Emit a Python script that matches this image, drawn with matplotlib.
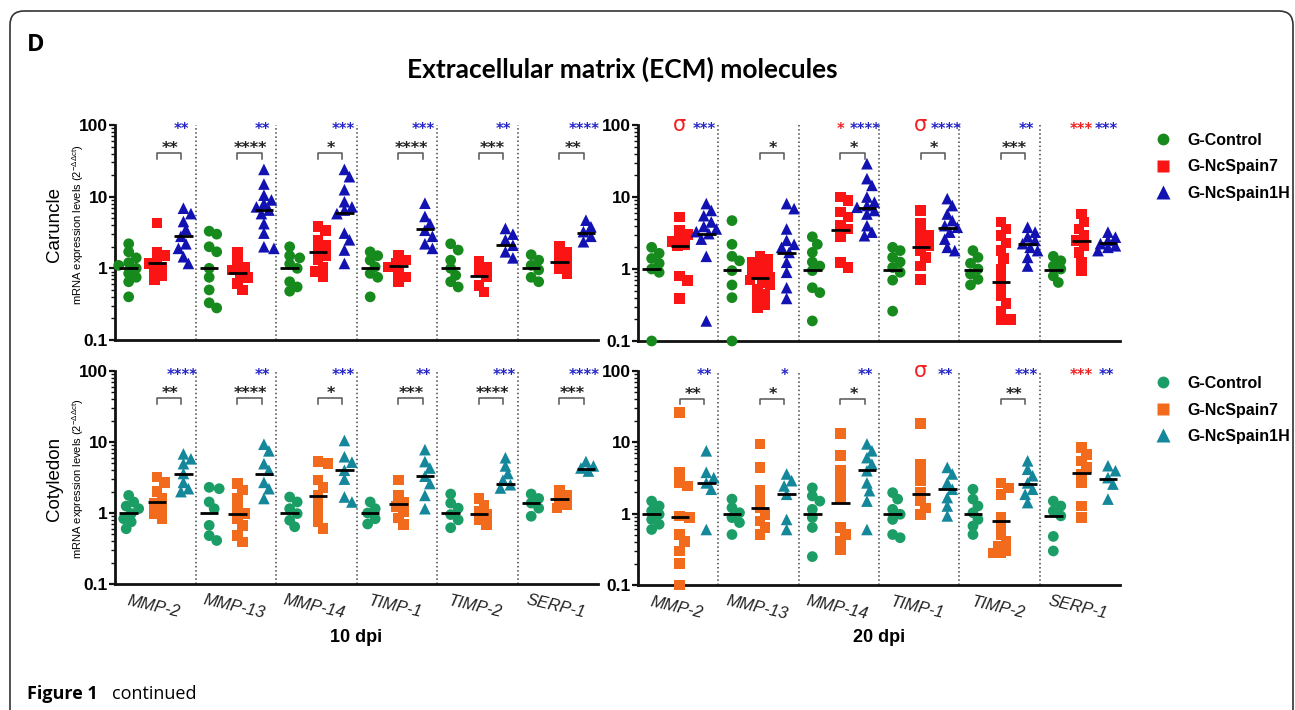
import numpy as np
import matplotlib
matplotlib.use("Agg")
import matplotlib.pyplot as plt
from matplotlib.patches import FancyBboxPatch
from matplotlib.lines import Line2D
import matplotlib.transforms as mtrans

# ---------------- data ----------------
genes = ["MMP-2", "MMP-13", "MMP-14", "TIMP-1", "TIMP-2", "SERP-1"]
groups = ["G-Control", "G-NcSpain7", "G-NcSpain1H"]

# Caruncle, 10 dpi
c10_ctrl = [[2.2, 1.7, 1.4, 1.2, 1.1, 1.0, 0.85, 0.75, 0.65, 0.4],
            [3.3, 3.0, 2.0, 1.7, 1.0, 0.75, 0.5, 0.33, 0.28],
            [2.0, 1.5, 1.4, 1.15, 1.0, 0.65, 0.55, 0.48],
            [1.7, 1.5, 1.3, 1.05, 0.85, 0.75, 0.4],
            [2.2, 1.8, 1.3, 1.0, 0.8, 0.65, 0.55],
            [1.55, 1.3, 1.1, 0.95, 0.75, 0.65]]
c10_n7 = [[4.3, 1.7, 1.5, 1.3, 1.17, 1.05, 0.95, 0.8, 0.7],
          [1.7, 1.2, 1.05, 0.95, 0.85, 0.75, 0.62, 0.5],
          [3.8, 3.4, 2.5, 2.1, 1.8, 1.5, 1.3, 1.05, 0.9, 0.76],
          [1.5, 1.3, 1.17, 1.05, 0.9, 0.76, 0.66],
          [1.24, 1.05, 0.9, 0.76, 0.58, 0.47],
          [2.0, 1.7, 1.45, 1.2, 1.0, 0.85]]
c10_n1h = [[6.9, 5.8, 4.5, 3.5, 2.8, 2.2, 1.9, 1.45, 1.17],
           [24, 15, 10.5, 9, 8, 7.2, 6.5, 5.8, 4.2, 3.1, 2.0, 1.9],
           [24, 19, 12.5, 8.5, 7.2, 6.5, 5.8, 3.1, 2.5, 1.8, 1.17],
           [8.1, 5.3, 4.2, 3.4, 2.8, 2.2, 1.9],
           [3.6, 3.0, 2.5, 2.1, 1.7, 1.4],
           [4.7, 3.8, 3.25, 2.8, 2.35]]
c10_med = [[1.0, 1.0, 1.0, 1.0, 1.0, 1.0],
           [1.17, 0.85, 1.7, 1.08, 0.79, 1.24],
           [2.83, 6.5, 6.0, 3.5, 2.1, 3.1]]
c10_red = ["", "", "", "", "", ""]
c10_blue = ["**", "**", "***", "***", "**", "****"]
c10_pair = ["**", "****", "*", "****", "***", "**"]

# Caruncle, 20 dpi
c20_ctrl = [[2.0, 1.65, 1.4, 1.2, 1.0, 0.9, 0.1],
            [4.7, 2.2, 1.5, 1.3, 0.95, 0.6, 0.4, 0.1],
            [2.8, 2.2, 1.7, 1.25, 1.1, 0.95, 0.55, 0.47, 0.19],
            [2.0, 1.8, 1.45, 1.25, 1.05, 0.9, 0.7, 0.26],
            [1.8, 1.45, 1.2, 1.0, 0.85, 0.72, 0.6],
            [1.5, 1.3, 1.1, 1.0, 0.8, 0.65]]
c20_n7 = [[5.3, 3.5, 3.0, 2.7, 2.4, 2.2, 2.1, 0.8, 0.69, 0.39],
          [1.5, 1.35, 1.24, 1.1, 1.0, 0.9, 0.82, 0.76, 0.7, 0.65, 0.6, 0.53, 0.45, 0.38, 0.32, 0.29],
          [10, 9, 6.2, 5.3, 4.0, 3.6, 2.8, 1.24, 1.05],
          [6.5, 4.25, 3.25, 2.9, 2.5, 2.1, 1.8, 1.45, 1.1, 0.72],
          [4.5, 3.6, 2.9, 2.3, 1.8, 1.4, 1.0, 0.75, 0.55, 0.42, 0.33, 0.26, 0.2, 0.2],
          [5.8, 4.5, 3.6, 2.9, 2.5, 2.1, 1.7, 1.24, 0.95]]
c20_n1h = [[8.1, 6.5, 5.5, 4.5, 3.9, 3.6, 3.3, 3.1, 2.6, 1.5, 0.19],
           [8.1, 6.9, 3.6, 2.5, 2.2, 2.0, 1.7, 1.24, 0.9, 0.55, 0.39],
           [29, 18, 14.5, 10, 8.5, 7.6, 7.2, 6.5, 5.8, 4.0, 3.25, 2.9],
           [9.5, 7.6, 5.8, 4.7, 4.0, 3.8, 3.25, 2.6, 2.0, 1.8],
           [3.8, 3.25, 2.8, 2.5, 2.25, 2.0, 1.8, 1.45, 1.1],
           [3.25, 2.77, 2.5, 2.25, 2.1, 2.0, 1.8]]
c20_med = [[1.0, 0.97, 0.97, 0.97, 0.98, 0.97],
           [2.07, 0.76, 3.43, 2.0, 0.65, 2.45],
           [3.08, 1.67, 7.1, 3.7, 2.25, 2.3]]
c20_red = ["σ", "", "*", "σ", "", "***"]
c20_blue = ["***", "", "****", "****", "**", "***"]
c20_pair = ["", "*", "*", "*", "***", ""]

# Cotyledon, 10 dpi
t10_ctrl = [[1.77, 1.43, 1.25, 1.15, 0.98, 0.83, 0.75, 0.6],
            [2.3, 2.2, 1.43, 1.15, 0.67, 0.48, 0.41],
            [1.68, 1.43, 1.15, 0.98, 0.79, 0.64],
            [1.43, 1.15, 1.0, 0.83, 0.7],
            [1.85, 1.38, 1.17, 0.95, 0.8, 0.62],
            [1.85, 1.6, 1.38, 1.17, 0.9]]
t10_n7 = [[3.2, 2.7, 2.0, 1.6, 1.35, 1.15, 0.98, 0.83],
          [2.6, 2.1, 1.6, 1.15, 0.98, 0.83, 0.67, 0.48, 0.39],
          [5.3, 4.95, 2.9, 2.3, 1.77, 1.28, 0.98, 0.75, 0.6],
          [2.9, 1.77, 1.43, 1.24, 1.05, 0.85, 0.69],
          [1.6, 1.3, 1.05, 0.95, 0.8, 0.69],
          [2.1, 1.77, 1.5, 1.3, 1.17]]
t10_n1h = [[6.8, 5.8, 4.95, 3.6, 2.7, 2.2, 2.0],
           [9.3, 7.5, 4.95, 4.0, 2.7, 2.2, 1.6],
           [10.5, 6.2, 5.2, 4.0, 3.0, 1.68, 1.43],
           [7.8, 5.3, 4.3, 3.3, 2.6, 1.77, 1.15],
           [6.0, 4.6, 3.6, 2.9, 2.5, 2.25],
           [5.3, 4.6, 4.3, 3.9]]
t10_med = [[1.0, 1.0, 1.0, 1.0, 1.0, 1.4],
           [1.43, 0.98, 1.75, 1.35, 0.97, 1.55],
           [3.5, 3.6, 4.0, 3.3, 2.56, 4.2]]
t10_red = ["", "", "", "", "", ""]
t10_blue = ["****", "**", "***", "**", "***", "****"]
t10_pair = ["**", "****", "*", "***", "****", "***"]

# Cotyledon, 20 dpi
t20_ctrl = [[1.5, 1.28, 1.09, 0.98, 0.83, 0.71, 0.6],
            [1.6, 1.21, 1.03, 0.88, 0.75, 0.51],
            [2.3, 1.77, 1.5, 1.15, 0.88, 0.64, 0.25],
            [1.97, 1.6, 1.15, 0.98, 0.83, 0.51, 0.46],
            [2.2, 1.6, 1.28, 1.03, 0.83, 0.67, 0.51],
            [1.5, 1.28, 1.09, 0.93, 0.48, 0.3]]
t20_n7 = [[26, 3.8, 2.7, 2.45, 0.93, 0.88, 0.51, 0.41, 0.3, 0.2, 0.1],
          [9.5, 4.45, 2.1, 1.6, 1.21, 0.98, 0.79, 0.64, 0.51],
          [13.4, 6.5, 4.0, 2.9, 2.2, 1.68, 0.64, 0.51, 0.41, 0.31],
          [18.5, 4.95, 3.8, 2.9, 1.97, 1.5, 1.2, 0.98],
          [2.7, 2.3, 1.87, 0.88, 0.67, 0.51, 0.41, 0.35, 0.3, 0.28, 0.28],
          [8.5, 6.8, 5.5, 4.45, 3.6, 2.7, 1.28, 0.88]]
t20_n1h = [[7.6, 3.8, 3.2, 2.7, 2.2, 0.6],
           [3.6, 2.9, 2.45, 1.87, 0.83, 0.6],
           [9.5, 7.6, 6.1, 4.95, 4.0, 2.7, 2.1, 1.5, 0.6],
           [4.45, 3.6, 2.7, 2.2, 1.68, 1.28, 0.93],
           [5.5, 4.2, 3.4, 2.7, 2.2, 1.87, 1.43],
           [4.7, 4.0, 3.2, 2.6, 1.6]]
t20_med = [[1.0, 1.0, 1.0, 1.0, 1.0, 0.93],
           [0.9, 1.19, 1.43, 1.9, 0.8, 3.7],
           [2.7, 1.9, 4.1, 2.25, 2.6, 3.05]]
t20_red = ["", "", "", "σ", "", "***"]
t20_blue = ["**", "*", "**", "**", "***", "**"]
t20_pair = ["**", "*", "*", "", "**", ""]

# ---------------- style ----------------
W, H = 1295, 710
ARIAL = "Liberation Sans"
top_cols = ["#168a1c", "#fb1414", "#1212b2"]
bot_cols = ["#1b9d66", "#f26a1c", "#14879b"]
markers = ["o", "s", "^"]
msizes = [60, 58, 70]
offsets = [-0.33, 0.02, 0.35]
PPU = 80.5     # px per x unit
PPD = 71.5     # px per decade

fig = plt.figure(figsize=(W / 100, H / 100), dpi=100)

bg = fig.add_axes([0, 0, 1, 1])
bg.set_xlim(0, W)
bg.set_ylim(H, 0)
bg.axis("off")
bg.add_patch(FancyBboxPatch((10, 11), 1283, 760, boxstyle="round,pad=0,rounding_size=14",
                            fill=False, ec="#333333", lw=1.2))


def swarm(vals, d=8.0, step=2.5, maxoff=11.0):
    y = np.log10(np.asarray(vals, float)) * PPD
    order = np.argsort(-y, kind="stable")
    px, py = [], []
    xs = np.zeros(len(y))
    cands = [0.0]
    k = 1
    while k * step <= maxoff:
        cands += [k * step, -k * step]
        k += 1
    for i in order:
        best, bestd = 0.0, -1
        for c in cands:
            md = min([np.hypot(c - a, y[i] - b) for a, b in zip(px, py)] + [1e9])
            if md >= d:
                best = c
                break
            if md > bestd:
                bestd, best = md, c
        xs[i] = best
        px.append(best)
        py.append(y[i])
    return xs / PPU


def panel(rect, data, meds, red, blue, pair, cols, show_x):
    ax = fig.add_axes(rect)
    ax.patch.set_alpha(0)
    ax.set_yscale("log")
    ax.set_ylim(0.1, 100)
    ax.set_xlim(-0.5, 5.5)
    for i in range(6):
        for g in range(3):
            vals = data[g][i]
            xc = i + offsets[g]
            ax.scatter(xc + swarm(vals), vals, marker=markers[g], s=msizes[g], c=cols[g],
                       edgecolors="none", clip_on=False, zorder=3)
            ax.plot([xc - 0.115, xc + 0.115], [meds[g][i]] * 2, color="black", lw=2.0,
                    solid_capstyle="butt", zorder=4)
        if i < 5:
            ax.axvline(i + 0.5, color="#444444", lw=1.1, ls=(0, (1, 1.7)), zorder=1)
        xr, xb = i + offsets[1], i + offsets[2]
        if pair[i]:
            ax.plot([xr, xr, xb - 0.03, xb - 0.03], [34, 41, 41, 34], color="#555555", lw=1.1, zorder=2)
            ax.annotate(pair[i], ((xr + xb) / 2, 55), xytext=(0, -6.5), textcoords="offset points",
                        ha="center", va="baseline", fontsize=11.5, fontweight="bold",
                        color="#222222", family="DejaVu Sans")
        if blue[i]:
            ax.annotate(blue[i], (xb - 0.02, 100), xytext=(0, -6.5), textcoords="offset points",
                        ha="center", va="baseline", fontsize=10.5, fontweight="bold",
                        color="#2424c8", family="DejaVu Sans", annotation_clip=False)
        if red[i]:
            if red[i] == "σ":
                ax.annotate(red[i], (xr, 100), xytext=(0, -4.5), textcoords="offset points",
                            ha="center", va="baseline", fontsize=15, color="#f02020",
                            family="DejaVu Sans", annotation_clip=False)
            else:
                ax.annotate(red[i], (xr, 100), xytext=(0, -6.5), textcoords="offset points",
                            ha="center", va="baseline", fontsize=10.5, fontweight="bold",
                            color="#f02020", family="DejaVu Sans", annotation_clip=False)
    for s in ["top", "right"]:
        ax.spines[s].set_visible(False)
    for s in ["left", "bottom"]:
        ax.spines[s].set_linewidth(2.0)
        ax.spines[s].set_color("#111111")
    ax.set_yticks([0.1, 1, 10, 100])
    ax.set_yticklabels(["0.1", "1", "10", "100"], fontsize=12.5, fontweight="bold", family=ARIAL)
    ax.tick_params(axis="y", which="major", length=4, width=1.6, pad=1.2, color="#111111")
    ax.tick_params(axis="y", which="minor", length=2.6, width=1.0, color="#111111")
    ax.set_xticks(range(6))
    if show_x:
        ax.set_xticklabels(genes, rotation=-13, fontsize=12, style="italic", family=ARIAL,
                           color="#222222", ha="center", rotation_mode="anchor", va="top")
        shift = mtrans.ScaledTranslation(4 / 100, 0, fig.dpi_scale_trans)
        for lab in ax.get_xticklabels():
            lab.set_transform(lab.get_transform() + shift)
        ax.tick_params(axis="x", length=0, pad=11)
    else:
        ax.set_xticklabels([])
        ax.tick_params(axis="x", length=0)
    return ax


def frect(x0, x1, ytop, ybot):
    return [x0 / W, 1 - ybot / H, (x1 - x0) / W, (ybot - ytop) / H]


axA = panel(frect(115, 598, 125, 340), [c10_ctrl, c10_n7, c10_n1h], c10_med,
            c10_red, c10_blue, c10_pair, top_cols, False)
axB = panel(frect(638, 1120, 125, 341), [c20_ctrl, c20_n7, c20_n1h], c20_med,
            c20_red, c20_blue, c20_pair, top_cols, False)
axC = panel(frect(115, 598, 371, 584), [t10_ctrl, t10_n7, t10_n1h], t10_med,
            t10_red, t10_blue, t10_pair, bot_cols, True)
axD = panel(frect(638, 1120, 371, 585), [t20_ctrl, t20_n7, t20_n1h], t20_med,
            t20_red, t20_blue, t20_pair, bot_cols, True)

# legends
for ax, cols, ytop in [(axB, top_cols, 133), (axD, bot_cols, 376)]:
    handles = [Line2D([], [], ls="none", marker=markers[g], ms=8.5 if g < 2 else 9.5,
                      mfc=cols[g], mec="none", label=groups[g]) for g in range(3)]
    fig.legend(handles=handles, loc="upper left", bbox_to_anchor=(1155 / W, 1 - ytop / H),
               frameon=False, handlelength=1.0, handletextpad=1.0, labelspacing=0.72,
               borderpad=0, borderaxespad=0,
               prop={"family": ARIAL, "weight": "bold", "size": 11.5})

# texts
fig.text(27 / W, 1 - 45 / H, "D", fontsize=17, fontweight="bold", family="Open Sans",
         ha="left", va="center")
fig.text(622 / W, 1 - 69 / H, "Extracellular matrix (ECM) molecules", fontsize=19,
         fontweight="bold", family="Lato", ha="center", va="center")
for yc, name in [(225, "Caruncle"), (479, "Cotyledon")]:
    fig.text(55 / W, 1 - yc / H, name, fontsize=13.5, family=ARIAL, rotation=90,
             ha="center", va="center")
    fig.text(78 / W, 1 - yc / H, r"mRNA expression levels (2$^{\mathregular{-\Delta\Delta ct}}$)",
             fontsize=8, family=ARIAL, rotation=90, ha="center", va="center")
fig.text(356 / W, 1 - 637 / H, "10 dpi", fontsize=13, fontweight="bold", family=ARIAL,
         ha="center", va="center")
fig.text(879 / W, 1 - 637 / H, "20 dpi", fontsize=13, fontweight="bold", family=ARIAL,
         ha="center", va="center")
fig.text(27 / W, 1 - 694 / H, "Figure 1", fontsize=13, fontweight="bold", family="Open Sans",
         ha="left", va="center")
fig.text(112 / W, 1 - 694 / H, "continued", fontsize=13, family="Open Sans",
         ha="left", va="center")

fig.savefig("out.png", dpi=100)
